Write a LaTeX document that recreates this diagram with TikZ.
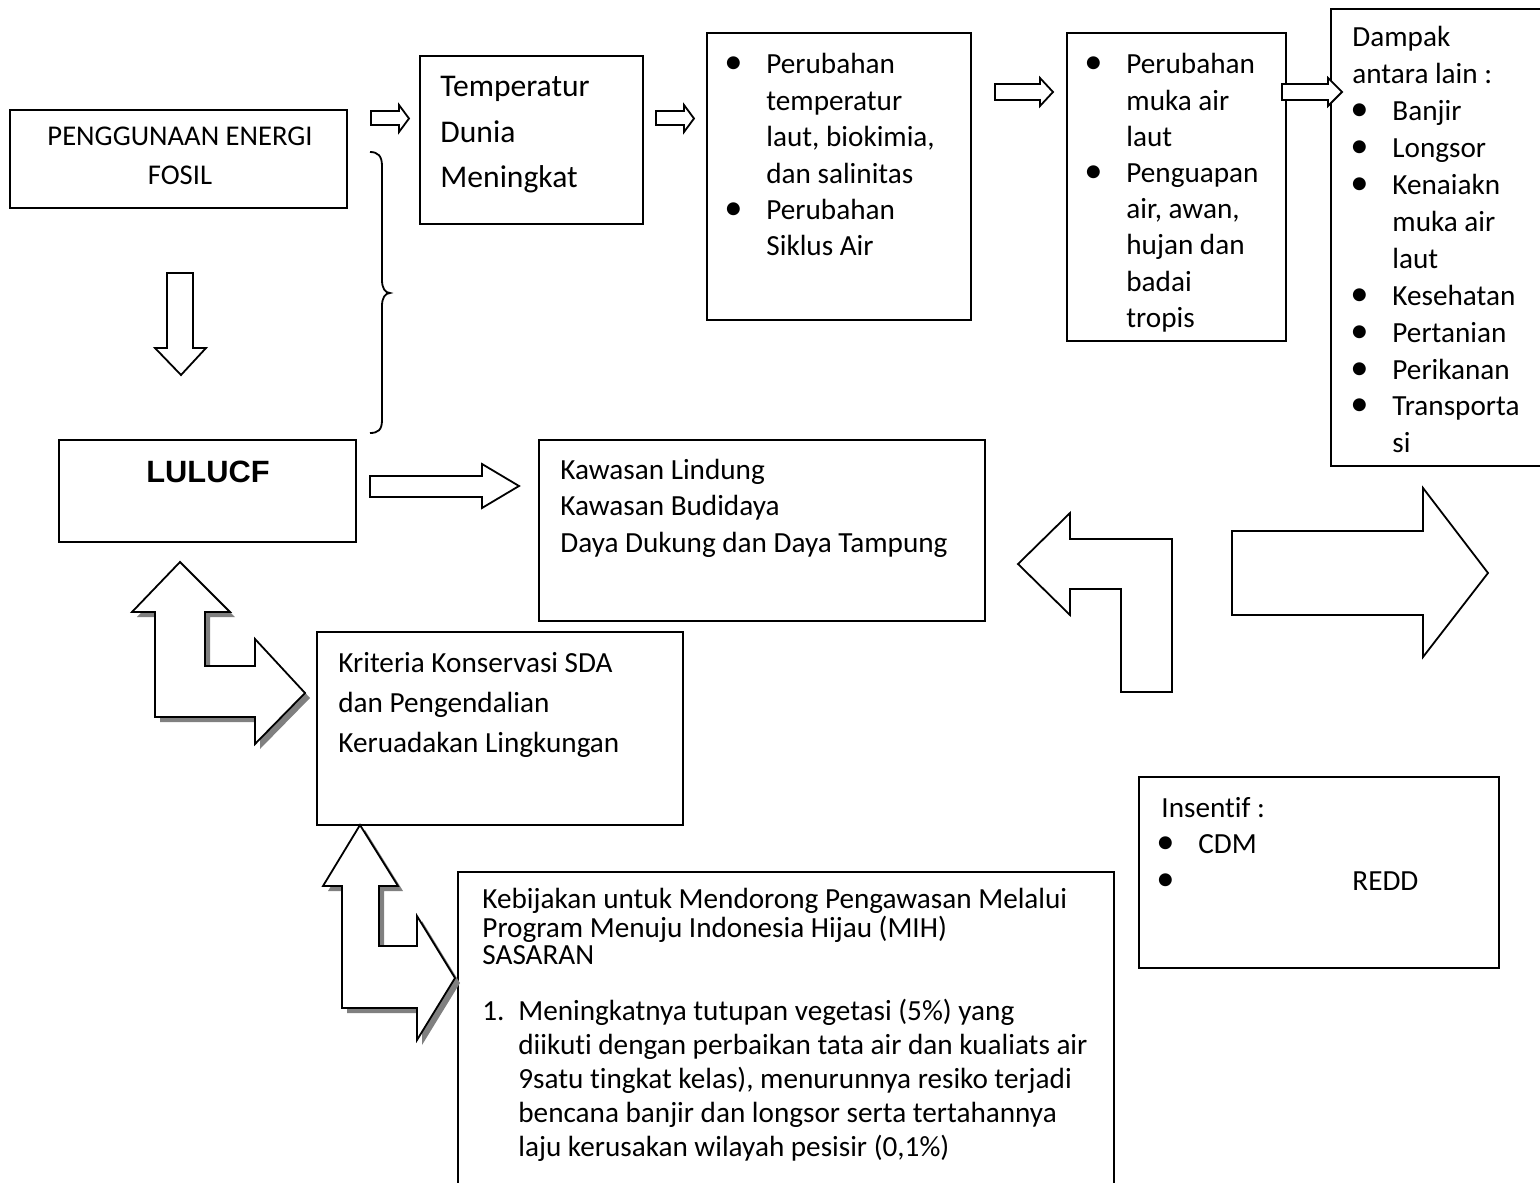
\documentclass[tikz,border=0pt]{standalone}
\usepackage{fontspec}
\setmainfont{Carlito}[Ligatures={NoCommon,NoContextual}]
\newfontfamily\arialfont{Liberation Sans}
\newcommand\TB[3]{{\fontsize{#1}{#2}\selectfont\begin{tabular}[t]{@{}l@{}}#3\end{tabular}}}
\newcommand\TC[3]{{\fontsize{#1}{#2}\selectfont\begin{tabular}[t]{@{}c@{}}#3\end{tabular}}}
\newcommand\bulg{\scalebox{1.25}{•}}
\newcommand\bl{\llap{\makebox[0pt]{\bulg}\hspace{16.5pt}}}
\newcommand\numl[1]{\llap{\makebox[18pt][l]{#1}}}
\begin{document}
\begin{tikzpicture}[x=0.5pt,y=-0.5pt,line join=miter,
  box/.style={draw,line width=1pt,inner sep=0pt},
  txt/.style={anchor=base west,inner sep=0pt},
  blk/.style={draw,line width=0.9pt,fill=white},
  shd/.style={fill=black!50,draw=none}]
\useasboundingbox (0,0) rectangle (1540,1182);
\clip (0,0) rectangle (1540,1182);
\fill[white] (0,0) rectangle (1540,1182);

% boxes
\node[box,minimum width=168.5pt,minimum height=49pt] (fosil) at (178.5,159) {};
\node[box,minimum width=111.5pt,minimum height=84pt] (temp) at (531.5,140) {};
\node[box,minimum width=132pt,minimum height=143.5pt] (laut) at (839,176.5) {};
\node[box,minimum width=109.5pt,minimum height=154pt] (muka) at (1176.5,187) {};
\node[box,minimum width=114.5pt,minimum height=228.5pt] (dampak) at (1445.5,237.5) {};
\node[box,minimum width=148.5pt,minimum height=51pt] (lulucf) at (207.5,491) {};
\node[box,minimum width=223pt,minimum height=90.5pt] (kawasan) at (762,530.5) {};
\node[box,minimum width=183pt,minimum height=96.5pt] (kriteria) at (500,728.5) {};
\node[box,minimum width=328pt,minimum height=164pt] (kebijakan) at (786,1036) {};
\node[box,minimum width=180pt,minimum height=95.5pt] (insentif) at (1319,872.5) {};

% texts
\node[inner sep=0pt,anchor=base] (tfosil) at (180,146) {\TC{14.3}{19.5}{PENGGUNAAN ENERGI\\FOSIL}};
\node[txt] (ttemp) at (440,97) {\TB{15.8}{22.75}{Temperatur\\Dunia\\Meningkat}};
\node[txt] (tlaut) at (766,74) {\TB{14.6}{18.2}{\bl Perubahan\\temperatur\\laut, biokimia,\\dan salinitas\\\bl Perubahan\\Siklus Air}};
\node[txt] (tmuka) at (1126,74) {\TB{14.6}{18.1}{\bl Perubahan\\muka air\\laut\\\bl Penguapan\\air, awan,\\hujan dan\\badai\\tropis}};
\node[txt] (tdampak) at (1352,47) {\TB{14.6}{18.45}{Dampak\\antara lain :\\\hspace{20pt}\bl Banjir\\\hspace{20pt}\bl Longsor\\\hspace{20pt}\bl Kenaiakn\\\hspace{20pt}muka air\\\hspace{20pt}laut\\\hspace{20pt}\bl Kesehatan\\\hspace{20pt}\bl Pertanian\\\hspace{20pt}\bl Perikanan\\\hspace{20pt}\bl Transporta\\\hspace{20pt}si}};
\node[inner sep=0pt,anchor=base] (tlulucf) at (208,482) {\arialfont\bfseries\fontsize{15.4}{18}\selectfont LULUCF};
\node[txt] (tkawasan) at (560,479) {\TB{14.6}{18.25}{Kawasan Lindung\\Kawasan Budidaya\\Daya Dukung dan Daya Tampung}};
\node[txt] (tkriteria) at (338,672) {\TB{14.6}{20}{Kriteria Konservasi SDA\\dan Pengendalian\\Keruadakan Lingkungan}};
\node[txt] (tinsentif) at (1161,817) {\TB{14.6}{18.25}{Insentif :\\\hspace{18.5pt}\bl CDM\\\hspace{18.5pt}\bl\hspace{77pt}REDD}};
\node[txt] (tkeb) at (482,908) {\TB{14.6}{13.5}{Kebijakan untuk Mendorong Pengawasan Melalui\\Program Menuju Indonesia Hijau (MIH)\\SASARAN}};
\node[txt] (tlist) at (518,1020) {\TB{14.6}{17}{\numl{1.}Meningkatnya tutupan vegetasi (5\%) yang\\diikuti dengan perbaikan tata air dan kualiats air\\9satu tingkat kelas), menurunnya resiko terjadi\\bencana banjir dan longsor serta tertahannya\\laju kerusakan wilayah pesisir (0,1\%)}};

% small block arrows
\draw[blk] (371,111)--(399,111)--(399,105)--(409,118.5)--(399,132)--(399,125)--(371,125)--cycle;
\draw[blk] (656,111)--(684,111)--(684,105)--(694,118.5)--(684,132)--(684,125)--(656,125)--cycle;
\draw[blk] (995,84)--(1040,84)--(1040,78)--(1053,92)--(1040,106)--(1040,100)--(995,100)--cycle;
\draw[blk] (1282,84)--(1328,84)--(1328,78)--(1342,92)--(1328,106)--(1328,100)--(1282,100)--cycle;
% down arrow
\draw[blk] (167,273)--(193,273)--(193,348)--(206,348)--(181,375)--(155,348)--(167,348)--cycle;
% LULUCF arrow
\draw[blk] (370,476)--(482,476)--(482,464)--(519,486)--(482,508)--(482,497)--(370,497)--cycle;

% brace
\draw[line width=0.9pt] (370,152) .. controls (378,152) and (382,156) .. (382,166) -- (382,280) .. controls (382,288) and (385,293) .. (390,293) .. controls (385,293) and (382,298) .. (382,306) -- (382,420) .. controls (382,430) and (378,433) .. (370,433);

% bent arrow 1 (with shadow)
\fill[shd,shift={(5,5)}] (180,562)--(230,612)--(205,612)--(205,666)--(255,666)--(255,639)--(305,693)--(255,744)--(255,717)--(155,717)--(155,612)--(132,612)--cycle;
\draw[blk] (180,562)--(230,612)--(205,612)--(205,666)--(255,666)--(255,639)--(305,693)--(255,744)--(255,717)--(155,717)--(155,612)--(132,612)--cycle;
% bent arrow 2 (with shadow)
\fill[shd,shift={(5,5)}] (360,825)--(398,886)--(379,886)--(379,946)--(417,946)--(417,916)--(455,978)--(417,1040)--(417,1008)--(342,1008)--(342,886)--(323,886)--cycle;
\draw[blk] (360,825)--(398,886)--(379,886)--(379,946)--(417,946)--(417,916)--(455,978)--(417,1040)--(417,1008)--(342,1008)--(342,886)--(323,886)--cycle;
% right bent arrow
\draw[blk] (1018,564)--(1070,513)--(1070,539)--(1172,539)--(1172,692)--(1121,692)--(1121,589)--(1070,589)--(1070,615)--cycle;
% big right arrow
\draw[blk] (1232,531)--(1423,531)--(1423,488)--(1488,573)--(1423,657)--(1423,615)--(1232,615)--cycle;
\end{tikzpicture}
\end{document}
